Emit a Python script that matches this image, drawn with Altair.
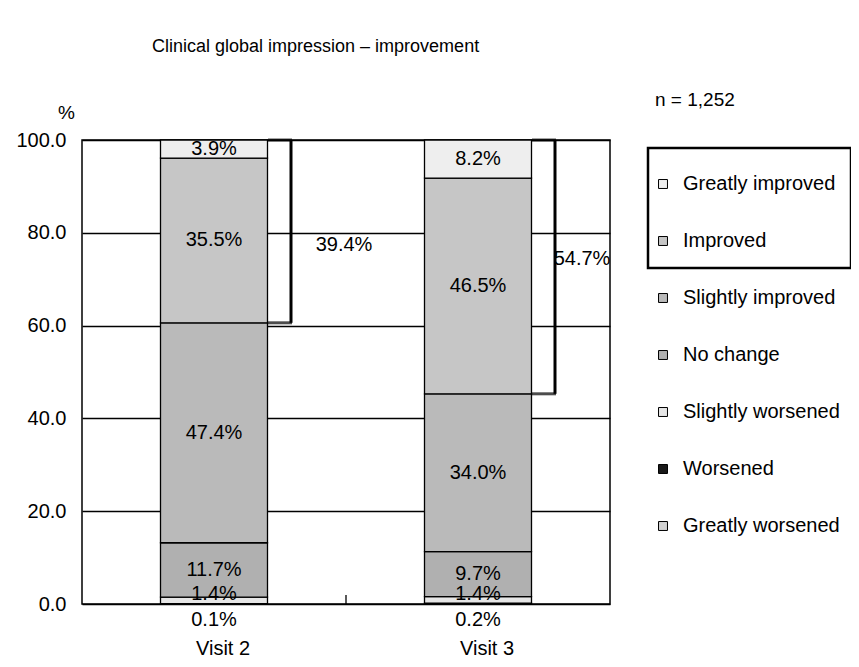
import altair as alt
import pandas as pd

visits = ["Visit 2", "Visit 3"]
# bottom to top stacking order
categories = ["Greatly worsened", "Worsened", "Slightly worsened", "No change",
              "Slightly improved", "Improved", "Greatly improved"]
visit2 = [0.0, 0.1, 1.4, 11.7, 47.4, 35.5, 3.9]
visit3 = [0.0, 0.2, 1.4, 9.7, 34.0, 46.5, 8.2]
fills = ["#d2d2d2", "#1a1a1a", "#e6e6e6", "#b0b0b0", "#bababa", "#c6c6c6", "#eeeeee"]
y_ticks = [0, 20, 40, 60, 80, 100]
title_text = "Clinical global impression \u2013 improvement"
n_label = "n = 1,252"
unit_label = "%"

FONT = "Liberation Sans"
FS = 20
W, H = 528, 464

rows = []
for v, vals in zip(visits, [visit2, visit3]):
    for i, (c, val) in enumerate(zip(categories, vals)):
        rows.append({"visit": v, "cat": c, "idx": i, "value": val,
                     "label": f"{val:.1f}%"})
df = pd.DataFrame(rows)

improved_cats = ["Improved", "Greatly improved"]
br = []
for v, vals in zip(visits, [visit2, visit3]):
    imp = sum(val for c, val in zip(categories, vals) if c in improved_cats)
    br.append({"visit": v, "low": 100 - imp, "high": 100.0, "label": f"{imp:.1f}%",
               "mid": 100 - imp / 2})
bdf = pd.DataFrame(br)

legend_order = categories[::-1]
xenc = alt.X("visit:N", scale=alt.Scale(domain=visits, paddingInner=0, paddingOuter=0),
             axis=alt.Axis(title=None, labelFontSize=FS, labelFont=FONT, labelColor="black",
                           ticks=False, domain=False, labelPadding=34, labelAngle=0,
                           labelOffset=9))
yscale = alt.Scale(domain=[0, 100], nice=False)

bars = alt.Chart(df).mark_bar(size=107, stroke="black", strokeWidth=1.3).encode(
    x=xenc,
    y=alt.Y("value:Q", stack="zero", scale=yscale,
            axis=alt.Axis(title=None, values=y_ticks, format=".1f", grid=True,
                          gridColor="black", gridWidth=1.3, gridOpacity=1,
                          ticks=False, domain=False, labelFontSize=FS, labelFont=FONT,
                          labelColor="black", labelPadding=16)),
    color=alt.Color("cat:N", scale=alt.Scale(domain=legend_order,
                                             range=fills[::-1]),
                    legend=alt.Legend(title=None, orient="none", legendX=571, legendY=34,
                                      symbolType="square", symbolSize=80,
                                      symbolStrokeColor="black", symbolStrokeWidth=1,
                                      labelFontSize=FS, labelFont=FONT, labelColor="black",
                                      rowPadding=37, labelOffset=10)),
    order=alt.Order("idx:Q", sort="ascending"),
)

base_lab = alt.Chart(df).transform_stack(
    stack="value", groupby=["visit"], sort=[alt.SortField("idx", order="ascending")],
    as_=["y0", "y1"]).transform_calculate(mid="(datum.y0 + datum.y1) / 2")

main_labels = base_lab.transform_filter(
    "datum.idx >= 3").mark_text(fontSize=FS, font=FONT, color="black").encode(
    x="visit:N", y=alt.Y("mid:Q", scale=yscale), text="label:N")
sw_labels = base_lab.transform_filter(
    "datum.idx == 2").mark_text(fontSize=FS, font=FONT, color="black", dy=-6).encode(
    x="visit:N", y=alt.Y("mid:Q", scale=yscale), text="label:N")
w_labels = base_lab.transform_filter(
    "datum.idx == 1").mark_text(fontSize=FS, font=FONT, color="black", dy=16).encode(
    x="visit:N", y=alt.Y("y0:Q", scale=yscale), text="label:N")

bracket_v = alt.Chart(bdf).mark_rule(color="black", strokeWidth=3, xOffset=77).encode(
    x="visit:N", y=alt.Y("low:Q", scale=yscale), y2="high:Q")
bracket_top = alt.Chart(bdf).mark_tick(color="black", thickness=3, size=24,
                                       orient="horizontal", xOffset=66).encode(
    x="visit:N", y=alt.Y("high:Q", scale=yscale))
bracket_bot = alt.Chart(bdf).mark_tick(color="black", thickness=3, size=24,
                                       orient="horizontal", xOffset=66).encode(
    x="visit:N", y=alt.Y("low:Q", scale=yscale))
br_lab2 = alt.Chart(bdf).transform_filter("datum.visit == 'Visit 2'").mark_text(
    fontSize=FS, font=FONT, color="black", dx=130, dy=14).encode(
    x="visit:N", y=alt.Y("mid:Q", scale=yscale), text="label:N")
br_lab3 = alt.Chart(bdf).transform_filter("datum.visit == 'Visit 3'").mark_text(
    fontSize=FS, font=FONT, color="black", dx=104, dy=-8).encode(
    x="visit:N", y=alt.Y("mid:Q", scale=yscale), text="label:N")

mid_tick = alt.Chart(pd.DataFrame({"visit": ["Visit 3"]})).mark_rule(
    color="black", strokeWidth=1.3).encode(
    x=alt.X("visit:N", bandPosition=0), y=alt.value(H - 9), y2=alt.value(H))

title_mark = alt.Chart(pd.DataFrame({"t": [title_text]})).mark_text(
    fontSize=18, font=FONT, color="black", align="left").encode(
    text="t:N", x=alt.value(70), y=alt.value(-93))
n_text = alt.Chart(pd.DataFrame({"t": [n_label]})).mark_text(
    fontSize=19, font=FONT, color="black", align="left").encode(
    text="t:N", x=alt.value(573), y=alt.value(-40))
pct_text = alt.Chart(pd.DataFrame({"t": [unit_label]})).mark_text(
    fontSize=19, font=FONT, color="black", align="left").encode(
    text="t:N", x=alt.value(-24), y=alt.value(-27))

legend_box = alt.Chart(pd.DataFrame({"a": [1]})).mark_rect(
    fill=None, fillOpacity=0, stroke="black", strokeWidth=2.5).encode(
    x=alt.value(566), x2=alt.value(769), y=alt.value(8), y2=alt.value(128))

chart = alt.layer(
    bars, main_labels, sw_labels, w_labels, bracket_v, bracket_top, bracket_bot,
    br_lab2, br_lab3, mid_tick, title_mark, n_text, pct_text, legend_box
).properties(
    width=W, height=H,
    autosize=alt.AutoSizeParams(type="none"),
    padding={"left": 74, "top": 132, "right": 241, "bottom": 55},
).configure_view(stroke="black", strokeWidth=1.5)

chart.save("out.html", embed_options={"renderer": "svg", "actions": False})
